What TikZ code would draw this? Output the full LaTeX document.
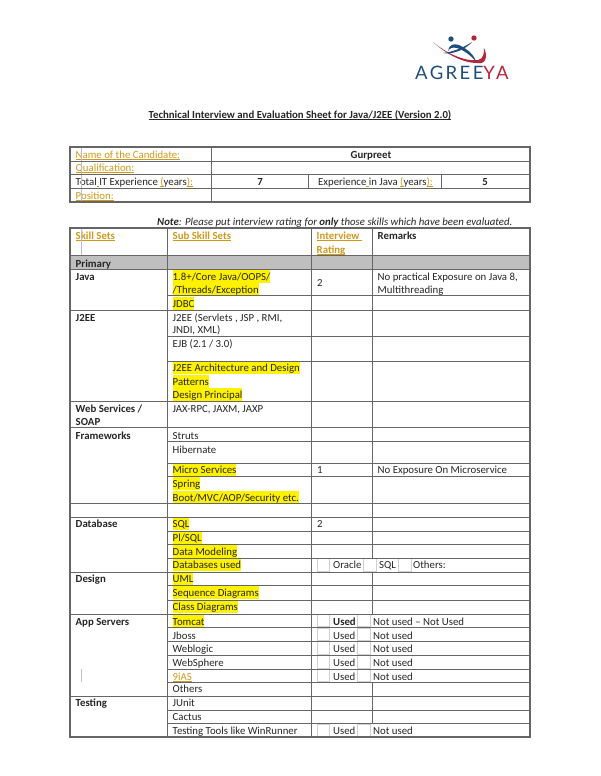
\documentclass[tikz,border=0pt]{standalone}
\usepackage{fontspec}
\setmainfont{Carlito}
\newfontfamily\logofont[LetterSpace=13]{Lato}
\definecolor{ink}{HTML}{262626}
\definecolor{linkc}{HTML}{CF9A1A}
\definecolor{rowgray}{HTML}{BFBFBF}
\definecolor{rulec}{HTML}{666666}
\definecolor{logoblue}{HTML}{1F4E7E}
\definecolor{logored}{HTML}{B5263A}
\newsavebox\ulbox
\newcommand\ulc[2]{\sbox\ulbox{#2}\rlap{\textcolor{#1}{\rule[-1.4pt]{\wd\ulbox}{0.6pt}}}\usebox\ulbox}
\newcommand\lk[1]{\textcolor{linkc}{\ulc{linkc}{#1}}}
\tikzset{
  x=1pt,y=-1pt,
  txt/.style={anchor=base west,inner sep=0pt,text=ink,font=\fontsize{10.8}{12}\selectfont},
  bold/.style={txt,font=\fontsize{10.8}{12}\selectfont\bfseries},
  hl/.style={txt,fill=yellow,text height=10pt,text depth=3pt},
  ctr/.style={bold,anchor=base},
  grid/.style={draw=rulec,line width=0.9pt},
  frame/.style={draw=rulec,line width=1.1pt},
  thin mark/.style={draw=black!25,line width=0.7pt},
  box/.style={draw=black!18,line width=0.6pt,fill=white},
}
\begin{document}
\begin{tikzpicture}
\useasboundingbox (0,0) rectangle (600,776);
\fill[white] (0,0) rectangle (600,776);
% logo
\fill[logoblue] (451,39) circle (2.7);
\fill[logored] (474,38) circle (2.7);
\fill[logored] (433,42) .. controls (446,53) and (465,62) .. (478,60) .. controls (484,59) and (484,52) .. (484,48) .. controls (488,56) and (486,65) .. (477,63) .. controls (462,63) and (445,53) .. (433,42) -- cycle;
\fill[logoblue] (448,51) .. controls (449,45) and (453,43) .. (459,45) .. controls (467,49) and (474,54) .. (476,62) .. controls (471,55) and (463,50) .. (457,48) .. controls (452,47) and (450,48) .. (448,51) -- cycle;
\fill[logoblue] (443,53) .. controls (452,52) and (463,48) .. (472,42) .. controls (466,49) and (453,55) .. (443,53) -- cycle;
\node[anchor=base west,inner sep=0pt,text=logoblue,font=\logofont\fontsize{18.5}{20}\selectfont] (logo) at (415,79) {AGREE\textcolor{logored}{YA}};
% title
\node[bold,anchor=base] (title) at (300,118) {\ulc{ink}{Technical Interview and Evaluation Sheet for Java/J2EE (Version 2.0)}};
\node[txt,font=\fontsize{10.8}{12}\selectfont\itshape] (note) at (157,225) {\textbf{Note}: Please put interview rating for \textbf{only} those skills which have been evaluated.};
% grey row
\fill[rowgray] (70,255) rectangle (530,269);
% table 1 text
\node[txt] (a1) at (75.5,158) {\lk{Name of the Candidate:}};
\node[ctr] (a2) at (371,158) {Gurpreet};
\node[txt] (a3) at (75.5,171.5) {\lk{Qualification:}};
\node[txt] (a4) at (75.5,185) {Total\lk{ }IT Experience \lk{(}years\lk{):}};
\node[ctr] (a5) at (260,185) {7};
\node[txt] (a6) at (318,185) {Experience\lk{ }in Java \lk{(}years\lk{):}};
\node[ctr] (a7) at (485,185) {5};
\node[txt] (a8) at (75.5,199) {\lk{Position:}};
% header
\node[bold] (h1) at (75.5,239) {\lk{Skill Sets}};
\node[bold] (h2) at (172.5,239) {\lk{Sub Skill Sets}};
\node[bold] (h3) at (316.5,239) {\lk{Interview }};
\node[bold] (h4) at (316.5,253) {\lk{Rating}};
\node[bold] (h5) at (377.5,239) {Remarks};
% first column
\node[bold] (c1) at (75.5,267) {Primary};
\node[bold] (c2) at (75.5,280) {Java};
\node[bold] (c3) at (75.5,321) {J2EE};
\node[bold] (c4) at (75.5,412) {Web Services /};
\node[bold] (c5) at (75.5,425) {SOAP};
\node[bold] (c6) at (75.5,439) {Frameworks};
\node[bold] (c7) at (75.5,527) {Database};
\node[bold] (c8) at (75.5,582) {Design};
\node[bold] (c9) at (75.5,625) {App Servers};
\node[bold] (c10) at (75.5,706) {Testing};
% second column
\node[hl] (s1) at (172.5,280) {1.8+/Core Java/OOPS/};
\node[hl] (s2) at (172.5,293) {/Threads/Exception};
\node[hl] (s3) at (172.5,307) {JDBC};
\node[txt] (s4) at (172.5,321) {J2EE (Servlets , JSP , RMI,};
\node[txt] (s5) at (172.5,333.5) {JNDI, XML)};
\node[txt] (s6) at (172.5,347) {EJB (2.1 / 3.0)};
\node[hl] (s7) at (172.5,371) {J2EE Architecture and Design};
\node[hl] (s8) at (172.5,385) {Patterns};
\node[hl] (s9) at (172.5,398) {Design Principal};
\node[txt] (s10) at (172.5,412) {JAX-RPC, JAXM, JAXP};
\node[txt] (s11) at (172.5,439) {Struts};
\node[txt] (s12) at (172.5,453) {Hibernate};
\node[hl] (s13) at (172.5,473) {Micro Services};
\node[hl] (s14) at (172.5,487) {Spring};
\node[hl] (s15) at (172.5,501) {Boot/MVC/AOP/Security etc.};
\node[hl] (s16) at (172.5,527) {SQL};
\node[hl] (s17) at (172.5,541) {Pl/SQL};
\node[hl] (s18) at (172.5,555) {Data Modeling};
\node[hl] (s19) at (172.5,568) {Databases used};
\node[hl] (s20) at (172.5,582) {UML};
\node[hl] (s21) at (172.5,596) {Sequence Diagrams};
\node[hl] (s22) at (172.5,610) {Class Diagrams};
\node[hl] (s23) at (172.5,625) {Tomcat};
\node[txt] (s24) at (172.5,639) {Jboss};
\node[txt] (s25) at (172.5,652) {Weblogic};
\node[txt] (s26) at (172.5,666) {WebSphere};
\node[txt] (s27) at (172.5,680) {\lk{9iAS}};
\node[txt] (s28) at (172.5,692.5) {Others};
\node[txt] (s29) at (172.5,706) {JUnit};
\node[txt] (s30) at (172.5,720) {Cactus};
\node[txt] (s31) at (172.5,734) {Testing Tools like WinRunner};
% ratings and remarks
\node[txt] (r1) at (317,286) {2};
\node[txt] (r2) at (377.5,280) {No practical Exposure on Java 8,};
\node[txt] (r3) at (377.5,293) {Multithreading};
\node[txt] (r4) at (317,473) {1};
\node[txt] (r5) at (377.5,473) {No Exposure On Microservice};
\node[txt] (r6) at (317,527) {2};
\node[txt] (r7) at (333,568) {Oracle};
\node[txt] (r8) at (379,568) {SQL};
\node[txt] (r9) at (413,568) {Others:};
\node[bold] (u1) at (333,625) {Used};
\node[txt] (n1) at (373,625) {Not used -- Not Used};
\node[txt] (u2) at (333,639) {Used};
\node[txt] (n2) at (373,639) {Not used};
\node[txt] (u3) at (333,652) {Used};
\node[txt] (n3) at (373,652) {Not used};
\node[txt] (u4) at (333,666) {Used};
\node[txt] (n4) at (373,666) {Not used};
\node[txt] (u5) at (333,680) {Used};
\node[txt] (n5) at (373,680) {Not used};
\node[txt] (u6) at (333,734) {Used};
\node[txt] (n6) at (373,734) {Not used};
% checkboxes
\foreach \xa/\xb/\ya/\yb in {317/329/558.5/571.5,363/376/558.5/571.5,398/411/558.5/571.5,
  317/329/614.5/626.5,357/370/614.5/626.5,317/329/628/640.5,357/370/628/640.5,317/329/641.5/654.5,357/370/641.5/654.5,
  317/329/655.5/668.5,357/370/655.5/668.5,317/329/669.5/681.5,357/370/669.5/681.5,317/329/724/736.5,357/370/724/736.5}
  \draw[box] (\xa,\ya) rectangle (\xb,\yb);
% change marks
\draw[thin mark] (81.5,147) -- (81.5,202);
\draw[thin mark] (81.5,228) -- (81.5,255);
\draw[thin mark] (81.5,669) -- (81.5,682);
% table 1 rules
\draw[frame] (70,147) rectangle (530,202);
\draw[grid] (70,161) -- (530,161);
\draw[grid] (70,174) -- (530,174);
\draw[grid] (70,188) -- (530,188);
\draw[grid] (211,147) -- (211,202);
\draw[grid] (308,174) -- (308,188);
\draw[grid] (441,174) -- (441,188);
% table 2 rules
\draw[frame] (70,228) rectangle (530,737);
\foreach \y in {255,269,310,401,427,503,517,572,614,696}
  \draw[grid] (70,\y) -- (530,\y);
\foreach \y in {295,336,361,441,463,476,531,544,558,585,600,627,641,655,669,682,710,723}
  \draw[grid] (167.5,\y) -- (530,\y);
\draw[grid] (167.5,228) -- (167.5,737);
\draw[grid] (311,228) -- (311,737);
\draw[grid] (372,228) -- (372,558);
\draw[grid] (372,572) -- (372,614);
\draw[grid] (372,682) -- (372,723);
\end{tikzpicture}
\end{document}
